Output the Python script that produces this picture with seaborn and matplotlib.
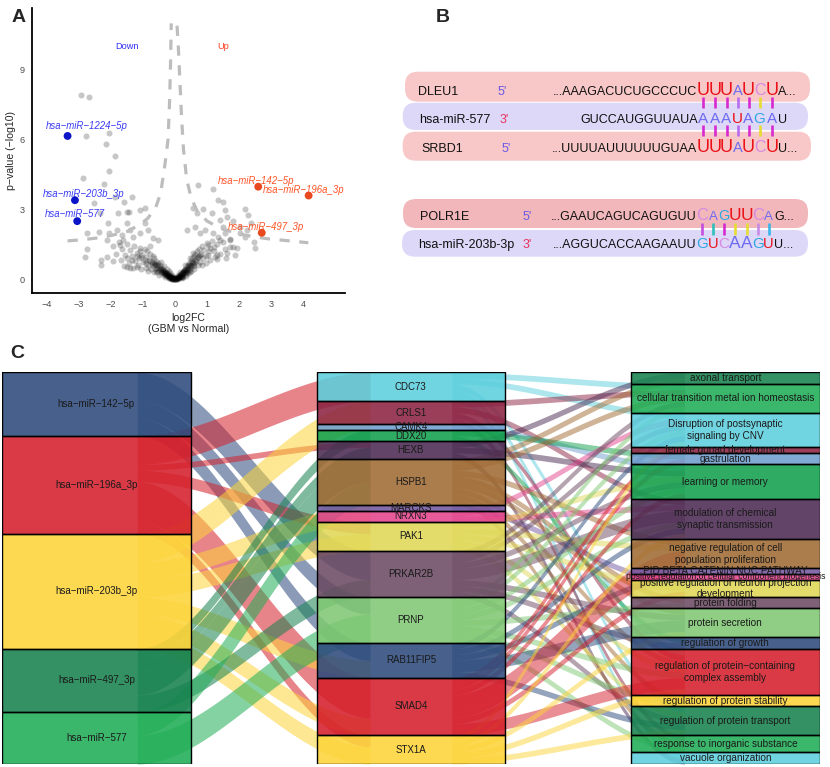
import numpy as np
import pandas as pd
import matplotlib.pyplot as plt
import seaborn as sns
from matplotlib.patches import Rectangle, FancyBboxPatch

# ---------------- panel A: volcano data ----------------
scatter_left = [(-2.94, 7.94), (-2.67, 7.84), (-2.78, 6.17), (-2.05, 6.30), (-2.15, 5.80),
                (-1.86, 5.32), (-2.06, 4.67), (-2.88, 4.37), (-2.21, 4.11), (-2.52, 3.27),
                (-1.87, 3.55), (-1.33, 3.52), (-1.59, 3.31), (-1.50, 2.91), (-2.35, 2.84),
                (-1.77, 2.84), (-1.44, 2.90), (-1.09, 2.99), (-0.94, 3.05), (-2.75, 1.98),
                (-2.37, 2.02), (-2.06, 1.98), (-2.74, 1.29), (-2.81, 0.95), (-2.31, 0.81),
                (-2.32, 0.62), (-2.11, 1.69), (-1.93, 0.80), (-2.08, 2.41), (-1.82, 2.12),
                (-1.51, 2.43), (-1.41, 2.12), (-1.66, 1.91), (-1.30, 1.83), (-1.09, 1.98),
                (-0.94, 2.41), (-0.83, 2.12), (-0.68, 1.77), (-0.52, 1.69), (-0.78, 1.41),
                (-1.93, 1.41), (-2.13, 0.97), (-1.51, 0.54), (-1.41, 0.48), (-1.20, 0.52),
                (-1.72, 1.48), (-1.61, 1.69)]
scatter_right = [(0.72, 4.05), (1.19, 3.86), (1.35, 3.41), (1.48, 3.34), (0.57, 3.05),
                 (0.88, 3.01), (1.55, 2.98), (2.18, 3.02), (2.28, 2.76), (0.67, 2.84),
                 (1.16, 2.84), (1.40, 2.55), (1.81, 2.52), (2.36, 2.41), (2.02, 2.26),
                 (0.36, 2.12), (0.93, 2.12), (1.19, 1.98), (1.55, 1.98), (1.71, 1.69),
                 (1.40, 1.69), (2.46, 1.59), (2.49, 1.33), (1.87, 1.05), (1.61, 1.12),
                 (1.30, 0.86), (1.03, 1.48), (0.78, 1.98), (0.62, 2.26), (2.02, 1.98),
                 (2.18, 1.83), (1.92, 1.33), (1.71, 1.40), (2.23, 2.12), (1.50, 2.26),
                 (1.61, 2.69)]
cluster_left = [(-0.02, 0.01), (-0.05, 0.03), (-0.08, 0.05), (-0.10, 0.08), (-0.12, 0.04),
                (-0.14, 0.12), (-0.16, 0.08), (-0.18, 0.15), (-0.20, 0.10), (-0.22, 0.20),
                (-0.24, 0.14), (-0.26, 0.25), (-0.28, 0.18), (-0.30, 0.30), (-0.32, 0.22),
                (-0.34, 0.36), (-0.36, 0.26), (-0.38, 0.42), (-0.40, 0.30), (-0.42, 0.50),
                (-0.45, 0.35), (-0.48, 0.60), (-0.50, 0.40), (-0.52, 0.70), (-0.55, 0.50),
                (-0.58, 0.80), (-0.60, 0.45), (-0.62, 0.65), (-0.65, 0.90), (-0.68, 0.55),
                (-0.70, 1.00), (-0.72, 0.75), (-0.75, 0.45), (-0.78, 1.10), (-0.80, 0.85),
                (-0.83, 0.60), (-0.86, 1.20), (-0.90, 0.95), (-0.92, 0.50), (-0.95, 1.30),
                (-1.00, 0.75), (-1.02, 1.05), (-1.05, 0.45), (-1.10, 1.35), (-1.12, 0.90),
                (-1.15, 0.60), (-1.20, 1.15), (-1.25, 0.80), (-1.28, 1.45), (-1.30, 0.50),
                (-1.35, 1.00), (-1.40, 1.25), (-1.45, 0.70), (-1.50, 1.50), (-1.55, 1.05),
                (-1.60, 0.55), (-1.65, 1.30), (-1.70, 0.85), (-1.75, 1.60), (-1.85, 1.10),
                (-0.25, 0.45), (-0.35, 0.55), (-0.45, 0.75), (-0.55, 0.30), (-0.65, 0.30),
                (-0.15, 0.25), (-0.30, 0.12), (-0.20, 0.35), (-0.50, 0.20), (-0.85, 0.35),
                (-0.06, 0.10), (-0.10, 0.18), (-0.04, 0.06), (-0.12, 0.02), (-0.18, 0.05)]
cluster_right = [(0.02, 0.01), (0.05, 0.05), (0.08, 0.10), (0.10, 0.04), (0.12, 0.15),
                 (0.14, 0.08), (0.16, 0.20), (0.18, 0.12), (0.20, 0.28), (0.22, 0.16),
                 (0.24, 0.32), (0.26, 0.22), (0.28, 0.40), (0.30, 0.26), (0.32, 0.46),
                 (0.34, 0.30), (0.36, 0.55), (0.38, 0.36), (0.40, 0.62), (0.42, 0.42),
                 (0.44, 0.70), (0.46, 0.48), (0.48, 0.80), (0.50, 0.55), (0.52, 0.90),
                 (0.55, 0.62), (0.58, 1.00), (0.60, 0.70), (0.62, 1.10), (0.65, 0.80),
                 (0.68, 1.20), (0.70, 0.60), (0.72, 0.95), (0.75, 1.30), (0.78, 0.75),
                 (0.80, 1.10), (0.85, 1.45), (0.88, 0.90), (0.90, 1.25), (0.95, 0.70),
                 (1.00, 1.55), (1.02, 1.05), (1.08, 1.35), (1.10, 0.85), (1.15, 1.65),
                 (1.20, 1.20), (1.25, 0.95), (1.30, 1.50), (1.35, 1.80), (1.40, 1.10),
                 (1.50, 1.60), (1.55, 1.30), (1.60, 0.90), (1.70, 1.75), (1.80, 1.40),
                 (0.30, 0.60), (0.40, 0.25), (0.50, 0.35), (0.60, 0.45), (0.25, 0.10),
                 (0.15, 0.30), (0.35, 0.15), (0.45, 0.90), (0.55, 1.15), (0.06, 0.12),
                 (0.03, 0.04), (0.11, 0.09), (0.20, 0.06), (0.09, 0.18)]
cluster_core = [(-0.01, 0.02), (0.01, 0.00), (-0.03, 0.00), (0.03, 0.02), (-0.06, 0.02),
                (0.06, 0.03), (-0.09, 0.06), (0.09, 0.07), (-0.11, 0.10), (0.11, 0.12),
                (-0.13, 0.07), (0.13, 0.10), (-0.15, 0.15), (0.15, 0.17), (-0.17, 0.11),
                (0.17, 0.14), (-0.19, 0.19), (0.19, 0.22), (-0.21, 0.14), (0.21, 0.20),
                (-0.23, 0.23), (0.23, 0.27), (-0.25, 0.17), (0.25, 0.30), (-0.27, 0.27),
                (0.27, 0.33), (-0.29, 0.21), (0.29, 0.36), (-0.31, 0.31), (0.31, 0.38),
                (-0.33, 0.26), (0.33, 0.42), (-0.37, 0.33), (0.37, 0.45), (-0.41, 0.38),
                (0.41, 0.50), (-0.44, 0.44), (0.44, 0.56), (-0.47, 0.47), (0.47, 0.62),
                (-0.53, 0.55), (0.53, 0.68), (-0.57, 0.60), (0.57, 0.74), (-0.63, 0.62),
                (0.63, 0.85), (-0.67, 0.70), (0.67, 0.92), (-0.73, 0.65), (0.73, 1.00),
                (-0.77, 0.80), (0.77, 1.05), (-0.20, 0.05), (0.20, 0.10), (-0.10, 0.02),
                (0.10, 0.02), (-0.35, 0.18), (0.35, 0.22), (-0.45, 0.25), (0.45, 0.30),
                (-0.60, 0.35), (0.60, 0.55), (-0.90, 0.70), (0.85, 0.60), (-1.05, 0.95),
                (0.95, 1.00), (-1.20, 1.00), (1.05, 1.20), (-1.35, 0.85), (-1.50, 0.90),
                (-1.10, 1.20), (-0.95, 0.85), (1.20, 1.40), (1.30, 1.05)]

hl_names = ["hsa−miR−1224−5p", "hsa−miR−203b_3p", "hsa−miR−577",
            "hsa−miR−142−5p", "hsa−miR−196a_3p", "hsa−miR−497_3p"]
hl_x = [-3.35, -3.12, -3.05, 2.59, 4.16, 2.70]
hl_y = [6.16, 3.40, 2.50, 3.98, 3.60, 2.00]
hl_group = ["Down", "Down", "Down", "Up", "Up", "Up"]

thr_left_x = [-3.35, -2.9, -2.4, -2.0, -1.5, -1.1, -0.85, -0.6, -0.45, -0.32, -0.22, -0.17, -0.14, -0.12]
thr_left_y = [1.65, 1.70, 1.78, 1.88, 2.05, 2.35, 2.62, 3.10, 3.70, 4.90, 6.00, 7.70, 9.40, 11.0]
thr_right_x = [0.06, 0.10, 0.15, 0.20, 0.26, 0.36, 0.50, 0.70, 1.00, 1.40, 1.90, 2.40, 2.90, 3.50, 4.15]
thr_right_y = [10.9, 10.0, 8.5, 7.0, 5.6, 4.3, 3.5, 2.9, 2.5, 2.2, 1.98, 1.84, 1.74, 1.66, 1.57]

# ---------------- panel B: sequences ----------------
seq_names = ["DLEU1", "hsa-miR-577", "SRBD1", "POLR1E", "hsa-miR-203b-3p"]
seq_ends = ["5'", "3'", "5'", "5'", "3'"]
seq_prefix = ["...AAAGACUCUGCCCUC", "GUCCAUGGUUAUA", "...UUUUAUUUUUUGUAA",
              "...GAAUCAGUCAGUGUU", "...AGGUCACCAAGAAUU"]
seq_seed = ["UUUAUCU", "AAAUAGA", "UUUAUCU", "CAGUUCA", "GUCAAGU"]
seq_suffix = ["A...", "U", "U...", "G...", "U..."]

# ---------------- panel C: alluvial links ----------------
mirnas = ["hsa−miR−142−5p", "hsa−miR−196a_3p", "hsa−miR−203b_3p", "hsa−miR−497_3p", "hsa−miR−577"]
genes = ["CDC73", "CRLS1", "CAMK4", "DDX20", "HEXB", "HSPB1", "MARCKS", "NRXN3",
         "PAK1", "PRKAR2B", "PRNP", "RAB11FIP5", "SMAD4", "STX1A"]
pathway_keys = ["axon", "metal", "cnv", "gonad", "gastr", "learn", "synap", "prolif", "pid",
                "biogen", "neuron", "fold", "secr", "growth", "complex", "stab", "transp",
                "inorg", "vacuole"]
pathway_labels = ["axonal transport", "cellular transition metal ion homeostasis",
                  "Disruption of postsynaptic\nsignaling by CNV", "female gonad development",
                  "gastrulation", "learning or memory",
                  "modulation of chemical\nsynaptic transmission",
                  "negative regulation of cell\npopulation proliferation",
                  "PID BETA CATENIN NUC PATHWAY",
                  "positive regulation of cellular component biogenesis",
                  "positive regulation of neuron projection\ndevelopment",
                  "protein folding", "protein secretion", "regulation of growth",
                  "regulation of protein−containing\ncomplex assembly",
                  "regulation of protein stability", "regulation of protein transport",
                  "response to inorganic substance", "vacuole organization"]

mirna_gene_links = [
    ("hsa−miR−142−5p", "PRKAR2B", 5), ("hsa−miR−142−5p", "PRNP", 3), ("hsa−miR−142−5p", "RAB11FIP5", 3),
    ("hsa−miR−196a_3p", "CDC73", 5), ("hsa−miR−196a_3p", "HEXB", 1), ("hsa−miR−196a_3p", "PAK1", 2),
    ("hsa−miR−196a_3p", "SMAD4", 7), ("hsa−miR−196a_3p", "STX1A", 2),
    ("hsa−miR−203b_3p", "CRLS1", 4), ("hsa−miR−203b_3p", "CAMK4", 1), ("hsa−miR−203b_3p", "MARCKS", 1),
    ("hsa−miR−203b_3p", "NRXN3", 2), ("hsa−miR−203b_3p", "PAK1", 3), ("hsa−miR−203b_3p", "SMAD4", 3),
    ("hsa−miR−203b_3p", "STX1A", 3), ("hsa−miR−203b_3p", "RAB11FIP5", 3),
    ("hsa−miR−497_3p", "DDX20", 2), ("hsa−miR−497_3p", "HEXB", 2), ("hsa−miR−497_3p", "HSPB1", 4),
    ("hsa−miR−497_3p", "PRKAR2B", 3),
    ("hsa−miR−577", "HSPB1", 4), ("hsa−miR−577", "PRNP", 5),
]
gene_pathway_links = [
    ("CDC73", "metal", 1), ("CDC73", "cnv", 1), ("CDC73", "complex", 1), ("CDC73", "transp", 1),
    ("CDC73", "vacuole", 1),
    ("CRLS1", "metal", 1), ("CRLS1", "synap", 1), ("CRLS1", "complex", 1), ("CRLS1", "inorg", 1),
    ("CAMK4", "learn", 1),
    ("DDX20", "gastr", 1), ("DDX20", "growth", 1),
    ("HEXB", "axon", 1), ("HEXB", "learn", 1), ("HEXB", "vacuole", 1),
    ("HSPB1", "axon", 1), ("HSPB1", "metal", 1), ("HSPB1", "prolif", 1), ("HSPB1", "fold", 1),
    ("HSPB1", "complex", 1), ("HSPB1", "stab", 1), ("HSPB1", "inorg", 1), ("HSPB1", "secr", 1),
    ("MARCKS", "neuron", 1),
    ("NRXN3", "cnv", 1), ("NRXN3", "synap", 1),
    ("PAK1", "neuron", 1), ("PAK1", "transp", 1), ("PAK1", "complex", 1), ("PAK1", "prolif", 1),
    ("PAK1", "learn", 1),
    ("PRKAR2B", "cnv", 1), ("PRKAR2B", "learn", 1), ("PRKAR2B", "synap", 2), ("PRKAR2B", "secr", 1),
    ("PRKAR2B", "transp", 1), ("PRKAR2B", "metal", 1), ("PRKAR2B", "growth", 1),
    ("PRNP", "metal", 1), ("PRNP", "cnv", 1), ("PRNP", "learn", 1), ("PRNP", "synap", 1),
    ("PRNP", "fold", 1), ("PRNP", "complex", 1), ("PRNP", "stab", 1), ("PRNP", "inorg", 1),
    ("RAB11FIP5", "cnv", 1), ("RAB11FIP5", "secr", 2), ("RAB11FIP5", "transp", 1),
    ("RAB11FIP5", "biogen", 1), ("RAB11FIP5", "synap", 1),
    ("SMAD4", "gonad", 1), ("SMAD4", "gastr", 1), ("SMAD4", "prolif", 3), ("SMAD4", "pid", 1),
    ("SMAD4", "complex", 2), ("SMAD4", "learn", 1), ("SMAD4", "neuron", 1),
    ("STX1A", "cnv", 1), ("STX1A", "synap", 1), ("STX1A", "secr", 1), ("STX1A", "complex", 1),
    ("STX1A", "transp", 1),
]

# ---------------- figure ----------------
sns.set_style("white")
plt.rcParams["font.family"] = ["Liberation Sans", "DejaVu Sans"]

W, H = 830, 767
fig = plt.figure(figsize=(8.3, 7.67), dpi=100)


def px_axes(x0, y0, x1, y1):
    return fig.add_axes([x0 / W, 1 - y1 / H, (x1 - x0) / W, (y1 - y0) / H])


# ===== A: volcano =====
ax = px_axes(32, 8, 345, 293)
bg = pd.DataFrame(scatter_left + scatter_right + cluster_left + cluster_right + cluster_core,
                  columns=["x", "y"])
sns.scatterplot(data=bg, x="x", y="y", color="black", alpha=0.22, s=19, linewidth=0,
                ax=ax, legend=False)
ax.plot(thr_left_x, thr_left_y, color="#bdbdbd", lw=2.3, ls=(0, (3.2, 3)))
ax.plot(thr_right_x, thr_right_y, color="#bdbdbd", lw=2.3, ls=(0, (3.2, 3)))

hl = pd.DataFrame({"x": hl_x, "y": hl_y, "group": hl_group, "name": hl_names})
dot_pal = {"Down": "#0b14c6", "Up": "#e8491e"}
txt_pal = {"Down": "#3a3af5", "Up": "#ff5426"}
sns.scatterplot(data=hl, x="x", y="y", hue="group", palette=dot_pal, s=32, linewidth=0,
                ax=ax, legend=False, zorder=5)
label_shift = [(0.60, 0.43), (0.26, 0.27), (-0.06, 0.30), (-0.06, 0.25), (-0.14, 0.24), (0.12, 0.24)]
for (dx, dy), r in zip(label_shift, hl.itertuples()):
    ax.text(r.x + dx, r.y + dy, r.name, color=txt_pal[r.group], fontsize=6.9,
            style="italic", ha="center", va="center", clip_on=False)
ax.text(-1.5, 10.0, "Down", color="#2e2ef5", fontsize=6.6, ha="center", va="center")
ax.text(1.5, 10.0, "Up", color="#ff3c1e", fontsize=6.6, ha="center", va="center")

ax.set_xlim(-4.458, 5.293)
ax.set_ylim(-0.589, 11.66)
ax.set_xticks(range(-4, 5))
ax.set_yticks([0, 3, 6, 9])
ax.tick_params(axis="both", labelsize=6.6, labelcolor="#4d4d4d", length=3, width=0.8,
               color="#333333", direction="out", pad=2)
for side in ["top", "right"]:
    ax.spines[side].set_visible(False)
for side in ["left", "bottom"]:
    ax.spines[side].set_linewidth(1.3)
    ax.spines[side].set_color("black")
ax.set_xlabel("log2FC\n(GBM vs Normal)", fontsize=7.6, labelpad=3, linespacing=1.15)
ax.set_ylabel("p−value (−log10)", fontsize=7.6, labelpad=3)
ax.set_facecolor("white")

# ===== B: seed pairing =====
axb = px_axes(380, 40, 830, 300)
axb.set_xlim(380, 830)
axb.set_ylim(300, 40)
axb.axis("off")

box_y = [(71.7, 101.7), (102.7, 130.0), (131.7, 160.7), (199.0, 228.0), (230.0, 256.7)]
box_x = [(405, 810), (402.7, 808), (402.7, 811), (403, 808), (402, 808)]
box_col = ["#f8c7c7", "#ddd8f8", "#f8c7c7", "#f1b7bb", "#ddd8f8"]
baseline = [95.0, 123.3, 151.7, 220.0, 247.7]
name_x = [418, 419, 421, 420, 418]
end_x = [498, 500, 502, 523, 523]
seed_x = [[703, 715, 726.5, 737.5, 748.5, 759.5, 772]] * 3 + [[702, 713, 724, 735, 746.5, 758, 768.5]] * 2
nt_col = {"U": "#ea1218", "A": "#6d6bf0", "C": "#d68ae2", "G": "#2fa8e2"}
seed_size = [
    {"U": 13, "A": 10.5, "C": 11.5, "G": 11},
    {"U": 11, "A": 11, "C": 11, "G": 11},
    {"U": 13, "A": 10.5, "C": 11.5, "G": 11},
    {"U": 12.5, "A": 9.5, "C": 12, "G": 10.5},
    {"U": 10.5, "A": 12.5, "C": 11, "G": 11},
]

for i in range(5):
    (x0, x1), (y0, y1) = box_x[i], box_y[i]
    axb.add_patch(FancyBboxPatch((x0, y0), x1 - x0, y1 - y0,
                                 boxstyle="round,pad=0,rounding_size=13",
                                 facecolor=box_col[i], edgecolor="none"))
    axb.text(name_x[i], baseline[i], seq_names[i], fontsize=9, va="baseline", color="#111111")
    axb.text(end_x[i], baseline[i], seq_ends[i], fontsize=9, va="baseline",
             color="#6a5ae6" if seq_ends[i] == "5'" else "#e8325e")
    xs = seed_x[i]
    axb.text(xs[0] - 5.5, baseline[i], seq_prefix[i], fontsize=9, ha="right", va="baseline",
             color="#111111")
    for x, nt in zip(xs, seq_seed[i]):
        axb.text(x, baseline[i], nt, fontsize=seed_size[i][nt], color=nt_col[nt],
                 ha="center", va="baseline")
    axb.text(xs[-1] + 5.5, baseline[i], seq_suffix[i], fontsize=9, ha="left", va="baseline",
             color="#111111")

pair_sets = [
    (seed_x[0], (96.7, 107.7), ["#d62ad0"] * 3 + ["#b86cf0", "#d62ad0", "#e6dc34", "#d62ad0"]),
    (seed_x[0], (125.0, 136.0), ["#d62ad0"] * 3 + ["#b86cf0", "#d62ad0", "#e6dc34", "#d62ad0"]),
    (seed_x[3], (223.3, 235.0), ["#c44ee0", "#2fc0b8", "#d62ad0", "#e6dc34", "#e6dc34",
                                 "#c88ce6", "#3ab4e6"]),
]
for xs, (ya, yb), cols in pair_sets:
    for x, c in zip(xs, cols):
        axb.plot([x, x], [ya, yb], color=c, lw=1.9, solid_capstyle="butt")

# ===== C: alluvial =====
axc = px_axes(2, 372.3, 819.7, 764)
axc.set_xlim(0.7, 3.3)
axc.set_ylim(68, 0)
axc.axis("off")

pal16 = ["#2d4a7c", "#d51f2b", "#fdd43a", "#17824f", "#20ad56", "#5ccfdd", "#8c2343",
         "#6f9fcf", "#12a04e", "#4b2a52", "#a06a33", "#7458a2", "#e4448c", "#e0d856",
         "#6c4b63", "#80c873"]
node_color = {n: pal16[i % 16] for i, n in enumerate(mirnas + genes + pathway_keys)}


def totals(links, nodes, pos):
    t = {n: 0 for n in nodes}
    for lk in links:
        t[lk[pos]] += lk[2]
    return t


def starts(nodes, tot):
    s, acc = {}, 0
    for n in nodes:
        s[n] = acc
        acc += tot[n]
    return s


def draw_flows(links, src_nodes, dst_nodes, x0, x1, alpha):
    si = {n: i for i, n in enumerate(src_nodes)}
    di = {n: i for i, n in enumerate(dst_nodes)}
    s_cur = starts(src_nodes, totals(links, src_nodes, 0))
    d_cur = starts(dst_nodes, totals(links, dst_nodes, 1))
    idx = range(len(links))
    y_src, y_dst = {}, {}
    for k in sorted(idx, key=lambda k: (si[links[k][0]], di[links[k][1]])):
        y_src[k] = s_cur[links[k][0]]
        s_cur[links[k][0]] += links[k][2]
    for k in sorted(idx, key=lambda k: (di[links[k][1]], si[links[k][0]])):
        y_dst[k] = d_cur[links[k][1]]
        d_cur[links[k][1]] += links[k][2]
    xs = np.linspace(x0, x1, 90)
    t = (xs - x0) / (x1 - x0)
    sm = t * t * (3 - 2 * t)
    for k in idx:
        s, d, n = links[k]
        top = y_src[k] + (y_dst[k] - y_src[k]) * sm
        axc.fill_between(xs, top, top + n, color=node_color[s], alpha=alpha, lw=0, zorder=1)


def draw_column(nodes, tot, xc, labels, fs, small=()):
    y = 0
    for n, lab in zip(nodes, labels):
        h = tot[n]
        axc.add_patch(Rectangle((xc - 0.3, y), 0.6, h, facecolor=node_color[n], alpha=0.88,
                                lw=0, zorder=2))
        axc.add_patch(Rectangle((xc - 0.3, y), 0.6, h, fill=False, edgecolor="black",
                                lw=1.0, zorder=3))
        axc.text(xc, y + h / 2, lab, ha="center", va="center",
                 fontsize=fs - 1.0 if n in small else fs,
                 color="#1a1a1a", zorder=4, linespacing=1.2)
        y += h


draw_flows(mirna_gene_links, mirnas, genes, 1.13, 1.87, 0.55)
draw_flows(gene_pathway_links, genes, pathway_keys, 2.13, 2.87, 0.5)
draw_column(mirnas, totals(mirna_gene_links, mirnas, 0), 1, mirnas, 7)
draw_column(genes, totals(mirna_gene_links, genes, 1), 2, genes, 7)
draw_column(pathway_keys, totals(gene_pathway_links, pathway_keys, 1), 3, pathway_labels, 7.2,
            small=("biogen",))

# panel letters
for lab, x, y in [("A", 12, 17), ("B", 436, 17), ("C", 10, 353)]:
    fig.text(x / W, 1 - y / H, lab, fontsize=14, fontweight="bold", va="center", ha="left")

fig.savefig("out.png", dpi=100, facecolor="white")
